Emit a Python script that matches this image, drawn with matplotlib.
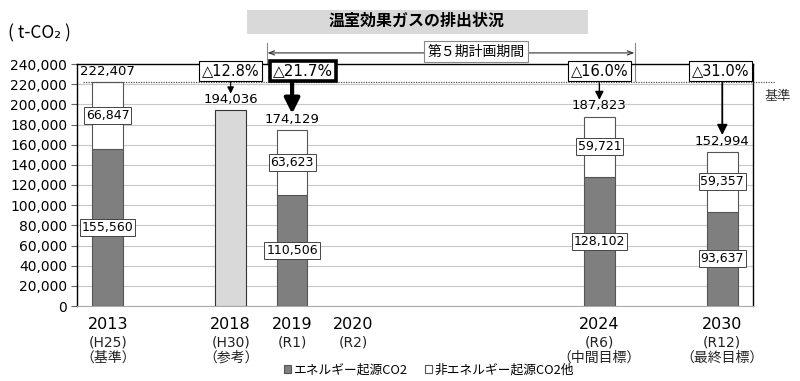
import matplotlib
matplotlib.use("Agg")
import matplotlib.pyplot as plt
from matplotlib.patches import Patch, Rectangle

plt.rcParams['font.family'] = ['DejaVu Sans', 'Noto Sans CJK JP']

# data
years = ['2013', '2018', '2019', '2020', '2024', '2030']
eras = ['(H25)', '(H30)', '(R1)', '(R2)', '(R6)', '(R12)']
notes = ['（基準）', '（参考）', '', '', '（中間目標）', '（最終目標）']
energy = [155560, None, 110506, None, 128102, 93637]
non_energy = [66847, None, 63623, None, 59721, 59357]
reference = [None, 194036, None, None, None, None]
totals = [222407, 194036, 174129, None, 187823, 152994]
reductions = [None, '△12.8%', '△21.7%', None, '△16.0%', '△31.0%']
base_total = 222407

# category slots on the x axis (2020 has no bar)
slots = [0, 2, 3, 4, 8, 10]

dark = '#7f7f7f'
light = '#d9d9d9'
edge = '#555555'

fig = plt.figure(figsize=(8, 3.81), dpi=100)
ax = fig.add_axes([77 / 800, 1 - 306 / 381, 676 / 800, 242 / 381])

width = 0.5
for i, x in enumerate(slots):
    if energy[i] is not None:
        ax.bar(x, energy[i], width, color=dark, edgecolor=edge, lw=0.8, zorder=3)
        ax.bar(x, non_energy[i], width, bottom=energy[i], color='white',
               edgecolor=edge, lw=0.8, zorder=3)
        box = dict(boxstyle='square,pad=0.15', fc='white', ec='#444444', lw=0.7)
        ax.text(x, energy[i] / 2, f'{energy[i]:,}', ha='center', va='center',
                fontsize=9, bbox=box, zorder=5)
        ax.text(x, energy[i] + non_energy[i] / 2, f'{non_energy[i]:,}',
                ha='center', va='center', fontsize=9, bbox=box, zorder=5)
    if reference[i] is not None:
        ax.bar(x, reference[i], width, color=light, edgecolor='#333333', lw=0.8, zorder=3)
    if totals[i] is not None:
        ax.annotate(f'{totals[i]:,}', xy=(x, totals[i]), xytext=(0, 3),
                    textcoords='offset points', ha='center', va='bottom',
                    fontsize=9.5, zorder=5)

# reduction boxes and arrows
box_dx = {1: 0, 2: 0.18, 4: 0, 5: -0.03}
arrow_w = {1: 0.8, 2: 3.0, 4: 1.0, 5: 1.3}
arrow_head = {1: 'head_width=0.2,head_length=0.4', 2: 'head_width=0.45,head_length=0.9',
              4: 'head_width=0.25,head_length=0.5', 5: 'head_width=0.3,head_length=0.6'}
for i, x in enumerate(slots):
    if reductions[i] is None:
        continue
    thick = i == 2
    ax.text(x + box_dx[i], 233000, reductions[i], ha='center', va='center',
            fontsize=11 if thick else 10.5, zorder=6, clip_on=False,
            bbox=dict(boxstyle='square,pad=0.18', fc='white', ec='black',
                      lw=2.6 if thick else 0.8))
    ax.annotate('', xy=(x, totals[i]), xytext=(x, base_total - 500),
                arrowprops=dict(arrowstyle='-|>,' + arrow_head[i], color='black',
                                lw=arrow_w[i], shrinkA=0, shrinkB=12),
                zorder=4)

# baseline (基準) dotted line
ax.plot([-0.41, 10.86], [base_total, base_total], ls=(0, (1, 1)), color='#555555',
        lw=0.9, clip_on=False, zorder=4)
ax.text(10.68, 208000, '基準', fontsize=9.5, color='#333333', va='center',
        family=['Noto Sans CJK JP'], clip_on=False)

# 5th plan period marker
ax.plot([2.59, 2.59], [240000, 261000], color='#888888', lw=0.8, clip_on=False)
ax.plot([8.58, 8.58], [223000, 261000], color='#888888', lw=0.8, clip_on=False)
ax.annotate('', xy=(2.6, 251000), xytext=(8.57, 251000), annotation_clip=False,
            arrowprops=dict(arrowstyle='<->,head_width=0.15,head_length=0.4',
                            color='#333333', lw=0.8, shrinkA=0, shrinkB=0))
ax.text(6.0, 252000, '第５期計画期間', ha='center', va='center', fontsize=10,
        family=['Noto Sans CJK JP'], clip_on=False, zorder=6,
        bbox=dict(boxstyle='square,pad=0.25', fc='white', ec='#888888', lw=0.8))

# axes styling
ax.set_xlim(-0.5, 10.5)
ax.set_ylim(0, 240000)
ax.set_yticks(range(0, 240001, 20000))
ax.set_yticklabels([f'{v:,}' for v in range(0, 240001, 20000)], fontsize=10)
ax.grid(axis='y', color='#c8c8c8', lw=0.8, zorder=0)
ax.set_axisbelow(True)
for side in ['left', 'top', 'right']:
    ax.spines[side].set_color('black')
    ax.spines[side].set_linewidth(1.0)
ax.spines['bottom'].set_color('#aaaaaa')
ax.tick_params(axis='y', length=4, color='#666666', pad=3)
ax.tick_params(axis='x', length=0, pad=8)
ax.set_xticks(slots)
ax.set_xticklabels(years, fontsize=11.5)
for i, x in enumerate(slots):
    ax.annotate(eras[i], xy=(x, 0), xycoords=('data', 'axes fraction'),
                xytext=(0, -26), textcoords='offset points', ha='center',
                va='center', fontsize=10, color='#222222')
    if notes[i]:
        ax.annotate(notes[i], xy=(x, 0), xycoords=('data', 'axes fraction'),
                    xytext=(0, -37.5), textcoords='offset points', ha='center',
                    va='center', fontsize=10, color='#222222',
                    family=['Noto Sans CJK JP'])

# unit label
fig.text(8 / 800, 1 - 33 / 381, '( t-CO₂ )', fontsize=12.5, va='center',
         family=['Noto Sans CJK JP', 'DejaVu Sans'])

# title box
fig.patches.append(Rectangle((247 / 800, 1 - 34 / 381), 341 / 800, 24 / 381,
                             transform=fig.transFigure, fc=light, ec='none'))
fig.text(417 / 800, 1 - 21 / 381, '温室効果ガスの排出状況', ha='center', va='center',
         fontsize=11.5, fontweight='bold', family=['Noto Sans CJK JP'])

# legend
handles = [Patch(fc=dark, ec=edge, lw=0.8, label='エネルギー起源CO2'),
           Patch(fc='white', ec=edge, lw=0.8, label='非エネルギー起源CO2他')]
fig.legend(handles=handles, loc='center', bbox_to_anchor=(429 / 800, 1 - 370 / 381),
           ncol=2, frameon=False, handlelength=0.6, handleheight=0.6,
           handletextpad=0.2, columnspacing=1.3,
           prop={'family': ['Noto Sans CJK JP'], 'size': 9.2})

fig.savefig('out.png', dpi=100)
